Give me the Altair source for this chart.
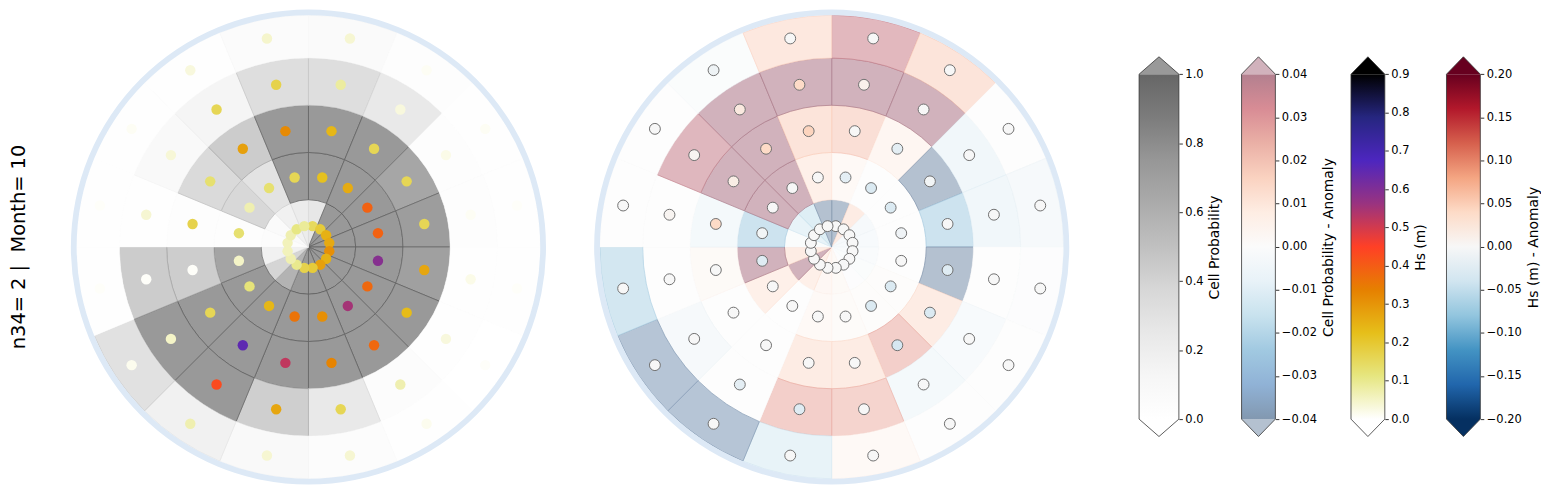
import math
import altair as alt
import pandas as pd

FONT = "DejaVu Sans"

# ---------------- data (rings from centre outward, 16 sectors clockwise from north) -------------
# Left panel: cell probability
PROB_R0 = [0.35, 1.0, 1.0, 1.0, 1.0, 1.0, 1.0, 1.0, 1.0, 0.80, 0.50, 0.24, 0.06, 0.10, 0.24, 0.30]
PROB_R1 = [1.0, 1.0, 1.0, 1.0, 1.0, 1.0, 1.0, 1.0, 1.0, 1.0, 1.0, 0.91, 0.04, 0.48, 0.39, 1.0]
PROB_R2 = [1.0, 1.0, 0.89, 0.97, 0.94, 1.0, 1.0, 1.0, 1.0, 1.0, 1.0, 0.57, 0.04, 0.46, 0.58, 1.0]
PROB_R3 = [0.43, 0.33, 0.04, 0.04, 0.03, 0.03, 0.06, 0.33, 0.55, 1.0, 1.0, 0.58, 0.03, 0.125, 0.18, 0.43]
PROB_R4 = [0.10, 0.04, 0.02, 0.03, 0.02, 0.01, 0.02, 0.06, 0.125, 0.24, 0.41, 0.02, 0.02, 0.02, 0.03, 0.08]

# Left panel: Hs (m) of each cell
HS_R0 = [0.15, 0.19, 0.25, 0.265, 0.31, 0.25, 0.28, 0.19, 0.17, 0.10, 0.07, 0.06, 0.06, 0.07, 0.11, 0.09]
HS_R1 = [0.22, 0.26, 0.39, 0.39, 0.59, 0.38, 0.55, 0.31, 0.36, 0.24, 0.12, 0.05, 0.13, 0.07, 0.13, 0.16]
HS_R2 = [0.24, 0.16, 0.16, 0.16, 0.27, 0.23, 0.38, 0.33, 0.52, 0.65, 0.16, 0.005, 0.17, 0.13, 0.28, 0.32]
HS_R3 = [0.085, 0.03, 0.02, 0.01, 0.02, 0.03, 0.07, 0.16, 0.27, 0.43, 0.05, 0.005, 0.04, 0.035, 0.16, 0.17]
HS_R4 = [0.04, 0.01, 0.01, 0.005, 0.005, 0.005, 0.015, 0.04, 0.04, 0.07, 0.015, 0.005, 0.005, 0.01, 0.03, 0.045]

# Right panel: cell probability anomaly
PA_R0 = [-0.04, 0.012, -0.005, -0.004, -0.003, -0.002, -0.001, 0.003, 0.005, 0.01, 0.04, 0.012, -0.002, -0.012, -0.016, -0.04]
PA_R1 = [0.004, 0.0, 0.0, 0.0, 0.0, 0.001, 0.001, 0.002, 0.004, 0.0, 0.01, 0.04, -0.022, 0.04, 0.04, 0.01]
PA_R2 = [0.018, 0.006, -0.04, -0.022, -0.04, 0.012, 0.024, 0.012, 0.012, 0.0, 0.0, 0.003, -0.006, 0.04, 0.04, 0.016]
PA_R3 = [0.04, 0.04, -0.008, -0.008, 0.0, -0.004, -0.006, 0.022, 0.024, 0.0, -0.005, 0.0, 0.0, 0.035, 0.04, 0.04]
PA_R4 = [0.034, 0.016, 0.0, -0.005, -0.001, 0.0, 0.0, 0.004, -0.012, -0.038, -0.038, -0.02, 0.0, 0.0, -0.002, 0.014]

# Right panel: Hs anomaly (m)
HA_R0 = [0.0] * 16
HA_R1 = [-0.02, -0.03, -0.03, -0.008, 0.0, -0.03, -0.03, 0.0, 0.0, 0.0, 0.0, -0.025, -0.005, 0.0, 0.0, 0.0]
HA_R2 = [0.0, -0.02, -0.005, 0.0, -0.025, -0.03, -0.035, 0.0, 0.0, 0.0, 0.0, 0.0, 0.04, 0.015, 0.04, 0.045]
HA_R3 = [0.01, 0.0, 0.0, 0.0, 0.0, 0.0, 0.0, 0.0, -0.025, -0.02, 0.0, 0.0, 0.005, 0.005, 0.02, 0.04]
HA_R4 = [0.0] * 14 + [-0.01, 0.0]

LABEL = "n34= 2 |\u00a0 Month= 10"

CB_TITLES = ["Cell Probability", "Cell Probability - Anomaly", "Hs (m)", "Hs (m) - Anomaly"]
CB_TICKS = [
    [0.0, 0.2, 0.4, 0.6, 0.8, 1.0],
    [-0.04, -0.03, -0.02, -0.01, 0.0, 0.01, 0.02, 0.03, 0.04],
    [0.0, 0.1, 0.2, 0.3, 0.4, 0.5, 0.6, 0.7, 0.8, 0.9],
    [-0.2, -0.15, -0.1, -0.05, 0.0, 0.05, 0.1, 0.15, 0.2],
]

# ---------------- colour maps ----------------
GREYS = ["#ffffff", "#f0f0f0", "#d9d9d9", "#bdbdbd", "#969696", "#737373", "#525252", "#252525", "#000000"]
RDBU_R = ["#053061", "#2166ac", "#4393c3", "#92c5de", "#d1e5f0", "#f7f7f7",
          "#fddbc7", "#f4a582", "#d6604d", "#b2182b", "#67001f"]
CMR_R = ["#ffffff", "#e6e680", "#e6bf1a", "#e68000", "#ff4026", "#993380", "#4d26bf", "#262680", "#000000"]


def rgb(h):
    h = h.lstrip("#")
    return [int(h[i:i + 2], 16) for i in (0, 2, 4)]


def tohex(c):
    return "#" + "".join(f"{max(0, min(255, int(round(v)))):02x}" for v in c)


def blend(h, a):
    return tohex([255 - a * (255 - v) for v in rgb(h)])


def darken(h):
    return tohex([v * v / 255.0 for v in rgb(h)])


GREY_DOM = [i / 8 for i in range(9)]
GREY_FILL = [blend(c, 0.4) for c in GREYS]
GREY_EDGE = [darken(c) for c in GREY_FILL]
GREY_BAR = [blend(c, 0.6) for c in GREYS]

PA_DOM = [-0.04 + 0.008 * i for i in range(11)]
PA_FILL = [blend(c, 0.3) for c in RDBU_R]
PA_EDGE = [darken(c) for c in PA_FILL]
PA_BAR = [blend(c, 0.5) for c in RDBU_R]

HS_DOM = [0.1125 * i for i in range(9)]
HA_DOM = [-0.2 + 0.04 * i for i in range(11)]

RING_COLOR = "#dde9f6"

# ---------------- geometry ----------------
H = 478
PX_PER_UNIT = 47.5
RAD_DOMAIN = [0, 4, 5]
RAD_RANGE = [0, 190, 233]
RING_R = [5.0, 5.135]


def build(cells, dots):
    rows = []
    for k in range(5):
        for s in range(16):
            t0 = s * 22.5
            tc = math.radians(t0 + 11.25)
            rd = 0.45 if k == 0 else k + 0.5
            rows.append(dict(sector=s, ring=k, t0=t0, t1=t0 + 22.5, r0=k, r1=k + 1,
                             dx=rd * math.sin(tc), dy=rd * math.cos(tc),
                             cell=cells[k][s], dot=dots[k][s]))
    return pd.DataFrame(rows)


left_df = build([PROB_R0, PROB_R1, PROB_R2, PROB_R3, PROB_R4], [HS_R0, HS_R1, HS_R2, HS_R3, HS_R4])
right_df = build([PA_R0, PA_R1, PA_R2, PA_R3, PA_R4], [HA_R0, HA_R1, HA_R2, HA_R3, HA_R4])
ring_df = pd.DataFrame({"t0": [0.0], "t1": [360.0], "r0": [RING_R[0]], "r1": [RING_R[1]]})


def polar_panel(df, width, fdom, frange, erange, ddom, drange, dot_size, dot_stroke=None, label=None):
    theta_sc = alt.Scale(domain=[0, 360], range=[0, 2 * math.pi])
    rad_sc = alt.Scale(type="linear", domain=RAD_DOMAIN, range=RAD_RANGE, nice=False)
    cells = alt.Chart(df).mark_arc(strokeWidth=0.7).encode(
        theta=alt.Theta("t0:Q", scale=theta_sc, stack=False),
        theta2="t1:Q",
        radius=alt.Radius("r0:Q", scale=rad_sc, stack=False),
        radius2="r1:Q",
        fill=alt.Fill("cell:Q", scale=alt.Scale(domain=fdom, range=frange, interpolate="rgb"), legend=None),
        stroke=alt.Stroke("cell:Q", scale=alt.Scale(domain=fdom, range=erange, interpolate="rgb"), legend=None),
    )
    ring = alt.Chart(ring_df).mark_arc(fill=RING_COLOR).encode(
        theta=alt.Theta("t0:Q", stack=False),
        theta2="t1:Q",
        radius=alt.Radius("r0:Q", stack=False),
        radius2="r1:Q",
    )
    hx = width / 2 / PX_PER_UNIT
    hy = H / 2 / PX_PER_UNIT
    kw = dict(size=dot_size, opacity=1)
    if dot_stroke:
        kw.update(stroke=dot_stroke, strokeWidth=1)
    dots = alt.Chart(df).mark_circle(**kw).encode(
        x=alt.X("dx:Q", scale=alt.Scale(domain=[-hx, hx], nice=False, zero=False), axis=None),
        y=alt.Y("dy:Q", scale=alt.Scale(domain=[-hy, hy], nice=False, zero=False), axis=None),
        color=alt.Color("dot:Q", scale=alt.Scale(domain=ddom, range=drange, interpolate="rgb"), legend=None),
    )
    layers = [cells, ring, dots]
    if label:
        txt = alt.Chart(pd.DataFrame({"label": [label]})).mark_text(
            angle=270, fontSize=19.5, font=FONT, align="center", baseline="middle", color="black"
        ).encode(text="label:N", x=alt.value(10), y=alt.value(H / 2))
        layers.append(txt)
    return alt.layer(*layers).properties(width=width, height=H)


def colorbar(lo, hi, colors, tri_top, tri_bot, ticks, fmt, title, view_w, bar_w):
    span = hi - lo
    ppu = 346.7 / span
    y_top = hi + 65.3 / ppu
    y_bot = lo - 66.0 / ppu
    ext = 17.5 / ppu
    ysc = alt.Scale(domain=[y_bot, y_top], nice=False, zero=False)
    xsc = alt.Scale(domain=[0, view_w], nice=False, zero=False)
    axis = alt.Axis(
        orient="right", values=ticks, format=fmt, title=title, titleAngle=270, titleBaseline="top",
        titleFont=FONT, titleFontSize=14, titleFontWeight="normal", titleColor="black", titlePadding=5,
        labelFont=FONT, labelFontSize=11.5, labelColor="black", labelPadding=2.5, labelFlush=False,
        labelOverlap=False, tickColor="black", tickSize=3.5, tickWidth=0.8, domain=False, grid=False)
    xa, xm, xb = view_w - bar_w, view_w - bar_w / 2, view_w
    n = len(colors)
    grad = {"gradient": "linear", "x1": 0, "x2": 0, "y1": 1, "y2": 0,
            "stops": [{"offset": i / (n - 1), "color": c} for i, c in enumerate(colors)]}
    bar = alt.Chart(pd.DataFrame({"xa": [xa], "xb": [xb], "lo": [lo], "hi": [hi]})).mark_rect(fill=grad).encode(
        x=alt.X("xa:Q", scale=xsc, axis=None),
        x2="xb:Q",
        y=alt.Y("lo:Q", scale=ysc, axis=axis),
        y2="hi:Q",
    )
    top_df = pd.DataFrame({"x": [xa, xm, xb], "y": [hi, hi + ext, hi], "y2": [hi, hi, hi]})
    bot_df = pd.DataFrame({"x": [xa, xm, xb], "y": [lo, lo - ext, lo], "y2": [lo, lo, lo]})
    top = alt.Chart(top_df).mark_area(fill=tri_top, opacity=1).encode(
        x=alt.X("x:Q", axis=None), y=alt.Y("y:Q", stack=False, axis=axis), y2="y2:Q")
    bot = alt.Chart(bot_df).mark_area(fill=tri_bot, opacity=1).encode(
        x=alt.X("x:Q", axis=None), y=alt.Y("y:Q", stack=False, axis=axis), y2="y2:Q")
    out_df = pd.DataFrame({
        "o": list(range(7)),
        "x": [xa, xa, xm, xb, xb, xm, xa],
        "y": [lo, hi, hi + ext, hi, lo, lo - ext, lo],
    })
    outline = alt.Chart(out_df).mark_line(color="#333333", strokeWidth=0.8).encode(
        x=alt.X("x:Q", axis=None), y=alt.Y("y:Q", axis=axis), order="o:Q")
    return alt.layer(bar, top, bot, outline).properties(width=view_w, height=H)


left = polar_panel(left_df, 602, GREY_DOM, GREY_FILL, GREY_EDGE, HS_DOM, CMR_R, 110, label=LABEL)
right = polar_panel(right_df, 450, PA_DOM, PA_FILL, PA_EDGE, HA_DOM, RDBU_R, 120, dot_stroke="#707070")

cb1 = colorbar(0.0, 1.0, GREY_BAR, GREY_FILL[-1], "#ffffff", CB_TICKS[0], ".1f", CB_TITLES[0], 124, 40)
cb2 = colorbar(-0.04, 0.04, PA_BAR, PA_FILL[-1], PA_FILL[0], CB_TICKS[1], ".2f", CB_TITLES[1], 97, 34)
cb3 = colorbar(0.0, 0.9, CMR_R, CMR_R[-1], CMR_R[0], CB_TICKS[2], ".1f", CB_TITLES[2], 110, 34)
cb4 = colorbar(-0.2, 0.2, RDBU_R, RDBU_R[-1], RDBU_R[0], CB_TICKS[3], ".2f", CB_TITLES[3], 96, 34)

chart = alt.hconcat(left, right, cb1, cb2, cb3, cb4, spacing=0, bounds="flush").resolve_scale(
    x="independent", y="independent", color="independent", fill="independent",
    stroke="independent", theta="independent", radius="independent",
).properties(padding={"left": 0, "top": 0, "right": 0, "bottom": 0}).configure_view(stroke=None)

chart.save("out.html", embed_options={"renderer": "svg", "actions": False})
